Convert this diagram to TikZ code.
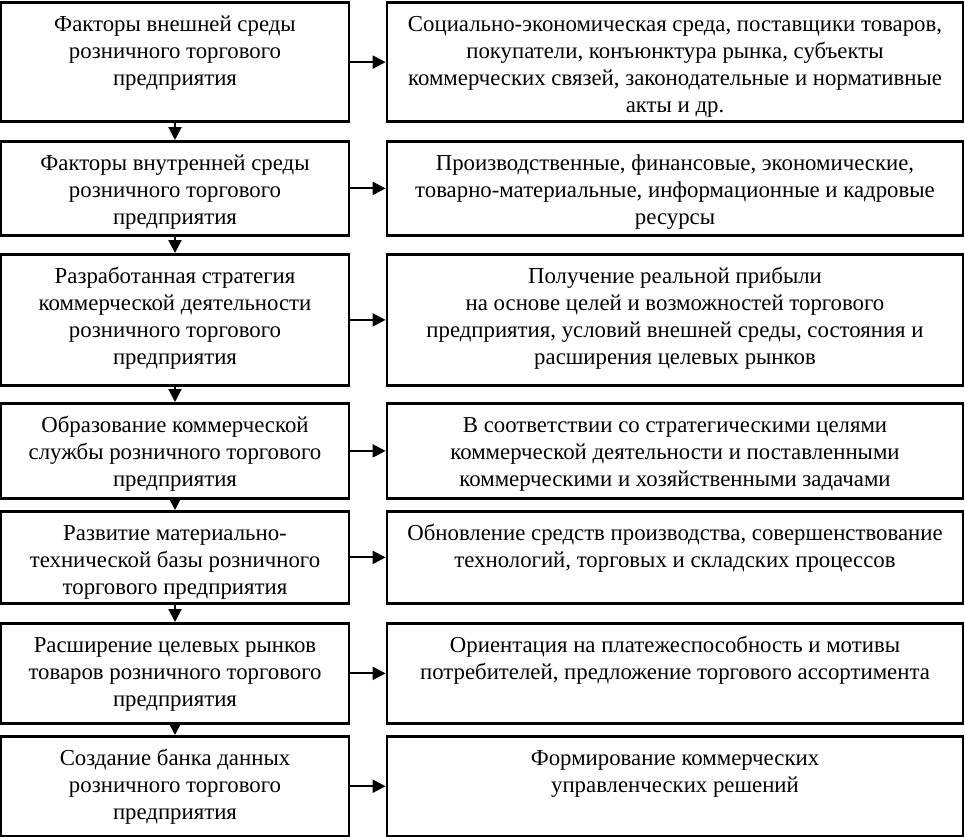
\documentclass[tikz,border=0pt]{standalone}
\usepackage{fontspec}
\setmainfont{Liberation Serif}
\usetikzlibrary{arrows.meta}
\tikzset{
  boxst/.style={draw, line width=2.8pt, inner xsep=3pt, inner ysep=10pt, anchor=north, font=\fontsize{22.8pt}{27pt}\selectfont},
  arr/.style={line width=2pt, -{Triangle[length=13pt,width=13pt]}}
}
\newcommand{\bx}[6]{%
  \node[boxst] (#1) at (#2pt,-#3pt)
    {\parbox[t][\dimexpr #4pt-#3pt-20pt\relax][t]{\dimexpr #5pt-6pt\relax}{\centering\strut #6}};}
\begin{document}
\begin{tikzpicture}
\useasboundingbox (0,0) rectangle (965pt,-836pt);
% left column
\bx{L1}{175}{1.4}{120}{348}{Факторы внешней среды\\ розничного торгового\\ предприятия}
\bx{L2}{175}{140}{234}{348}{Факторы внутренней среды\\ розничного торгового\\ предприятия}
\bx{L3}{175}{253}{384}{348}{Разработанная стратегия\\ коммерческой деятельности\\ розничного торгового\\ предприятия}
\bx{L4}{175}{402}{497}{348}{Образование коммерческой\\ службы розничного торгового\\ предприятия}
\bx{L5}{175}{510}{602}{348}{Развитие материально-\\ технической базы розничного\\ торгового предприятия}
\bx{L6}{175}{622}{722}{348}{Расширение целевых рынков\\ товаров розничного торгового\\ предприятия}
\bx{L7}{175}{735}{834.6}{348}{Создание банка данных\\ розничного торгового\\ предприятия}
% right column
\bx{R1}{675}{1.4}{120}{576}{Социально-экономическая среда, поставщики товаров,\\ покупатели, конъюнктура рынка, субъекты\\ коммерческих связей, законодательные и нормативные\\ акты и др.}
\bx{R2}{675}{140}{234}{576}{Производственные, финансовые, экономические,\\ товарно-материальные, информационные и кадровые\\ ресурсы}
\bx{R3}{675}{253}{384}{576}{Получение реальной прибыли\\ на основе целей и возможностей торгового\\ предприятия, условий внешней среды, состояния и\\ расширения целевых рынков}
\bx{R4}{675}{402}{497}{576}{В соответствии со стратегическими целями\\ коммерческой деятельности и поставленными\\ коммерческими и хозяйственными задачами}
\bx{R5}{675}{510}{602}{576}{Обновление средств производства, совершенствование\\ технологий, торговых и складских процессов}
\bx{R6}{675}{622}{722}{576}{Ориентация на платежеспособность и мотивы\\ потребителей, предложение торгового ассортимента}
\bx{R7}{675}{735}{834.6}{576}{Формирование коммерческих\\ управленческих решений}
% vertical arrows
\foreach \a/\b in {L1/L2,L2/L3,L3/L4,L4/L5,L5/L6,L6/L7}
  \draw[arr] (\a.south) -- (\b.north);
% horizontal arrows
\foreach \i in {1,...,7}
  \draw[arr] (L\i.east) -- (R\i.west);
\end{tikzpicture}
\end{document}
